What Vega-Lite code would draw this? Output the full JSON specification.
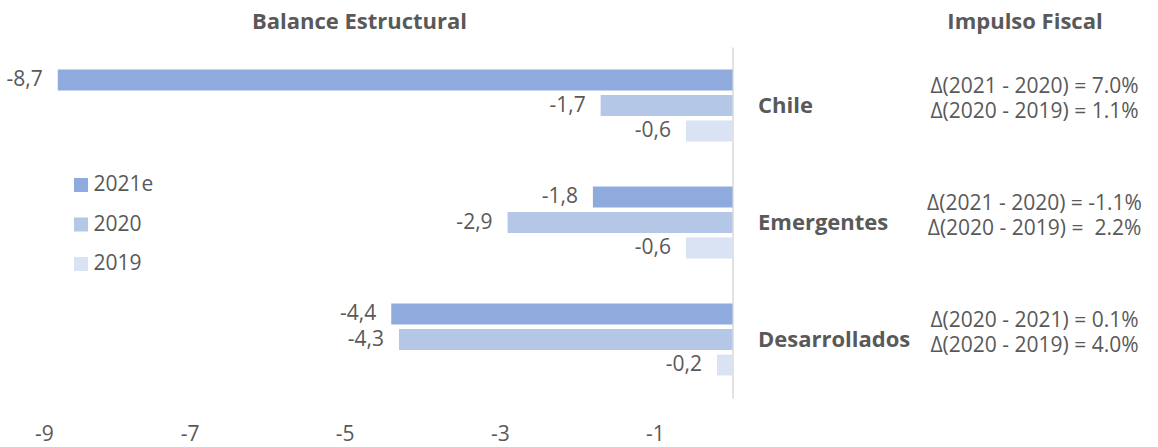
{
  "$schema": "https://vega.github.io/schema/vega-lite/v6.json",
  "autosize": {"type": "pad"},
  "padding": {"left": 6.5, "top": 11, "right": 0, "bottom": 4},
  "background": "white",
  "bounds": "flush",
  "spacing": 182,
  "config": {
    "font": "Open Sans",
    "view": {"stroke": null},
    "locale": {"number": {"decimal": ",", "thousands": ".", "grouping": [3], "currency": ["$", ""], "minus": "-"}}
  },
  "datasets": {
    "balance": [
      {"region": "Chile", "year": "2021e", "value": -8.7},
      {"region": "Chile", "year": "2020", "value": -1.7},
      {"region": "Chile", "year": "2019", "value": -0.6},
      {"region": "Emergentes", "year": "2021e", "value": -1.8},
      {"region": "Emergentes", "year": "2020", "value": -2.9},
      {"region": "Emergentes", "year": "2019", "value": -0.6},
      {"region": "Desarrollados", "year": "2021e", "value": -4.4},
      {"region": "Desarrollados", "year": "2020", "value": -4.3},
      {"region": "Desarrollados", "year": "2019", "value": -0.2}
    ],
    "impulso": [
      {"region": "Chile", "line": 1, "text": "Δ(2021 - 2020) = 7.0%"},
      {"region": "Chile", "line": 2, "text": "Δ(2020 - 2019) = 1.1%"},
      {"region": "Emergentes", "line": 1, "text": "Δ(2021 - 2020) = -1.1%"},
      {"region": "Emergentes", "line": 2, "text": "Δ(2020 - 2019) = \u00a02.2%"},
      {"region": "Desarrollados", "line": 1, "text": "Δ(2020 - 2021) = 0.1%"},
      {"region": "Desarrollados", "line": 2, "text": "Δ(2020 - 2019) = 4.0%"}
    ]
  },
  "resolve": {"scale": {"y": "independent", "yOffset": "independent", "x": "independent"}},
  "hconcat": [
    {
      "width": 698,
      "height": 351,
      "title": {"text": "Balance Estructural", "dx": -24, "fontSize": 22, "fontWeight": "bold", "color": "#595959", "baseline": "alphabetic", "offset": -4, "anchor": "middle"},
      "data": {"name": "balance"},
      "encoding": {
        "y": {
          "field": "region", "type": "nominal",
          "sort": ["Chile", "Emergentes", "Desarrollados"],
          "scale": {"paddingInner": 0.346, "paddingOuter": 0.173},
          "axis": {"orient": "right", "title": null, "ticks": false, "tickSize": 0, "domainColor": "#D9D9D9", "domainWidth": 1.5, "labelFontSize": 22, "labelFontWeight": "bold", "labelColor": "#595959", "labelPadding": 25, "labelAlign": "left", "labelLimit": 400}
        },
        "yOffset": {
          "field": "year", "type": "nominal",
          "sort": ["2021e", "2020", "2019"],
          "scale": {"paddingInner": 0.18, "paddingOuter": 0.09}
        },
        "x": {
          "field": "value", "type": "quantitative",
          "scale": {"domain": [-9, 0], "nice": false, "zero": false},
          "axis": {"values": [-9, -7, -5, -3, -1], "format": "d", "grid": false, "domain": false, "ticks": false, "tickSize": 0, "labelFontSize": 21, "labelColor": "#595959", "labelPadding": 36, "labelBaseline": "middle", "title": null}
        }
      },
      "layer": [
        {
          "mark": {"type": "bar"},
          "encoding": {
            "color": {
              "field": "year", "type": "nominal",
              "scale": {"domain": ["2021e", "2020", "2019"], "range": ["#8FAADC", "#B4C7E7", "#DAE3F3"]},
              "legend": {"orient": "none", "legendX": 36, "legendY": 127.5, "title": null, "direction": "vertical", "symbolType": "square", "symbolSize": 196, "symbolStrokeWidth": 0, "labelFontSize": 21, "labelColor": "#595959", "rowPadding": 17.5, "labelOffset": 2, "padding": 0}
            }
          }
        },
        {
          "mark": {"type": "text", "align": "right", "baseline": "middle", "dx": -15, "fontSize": 21, "color": "#595959"},
          "encoding": {"text": {"field": "value", "type": "quantitative", "format": ".1f"}}
        }
      ]
    },
    {
      "width": 240,
      "height": 351,
      "title": {"text": "Impulso Fiscal", "dx": -9.5, "fontSize": 22, "fontWeight": "bold", "color": "#595959", "baseline": "alphabetic", "offset": -4, "anchor": "middle"},
      "data": {"name": "impulso"},
      "mark": {"type": "text", "fontSize": 21, "color": "#595959", "baseline": "middle", "align": "center", "dy": -6},
      "encoding": {
        "y": {
          "field": "region", "type": "nominal",
          "sort": ["Chile", "Emergentes", "Desarrollados"],
          "scale": {"paddingInner": 0.346, "paddingOuter": 0.173},
          "axis": null
        },
        "yOffset": {
          "field": "line", "type": "ordinal",
          "scale": {"type": "point", "padding": 1.094}
        },
        "text": {"field": "text", "type": "nominal"}
      }
    }
  ]
}
